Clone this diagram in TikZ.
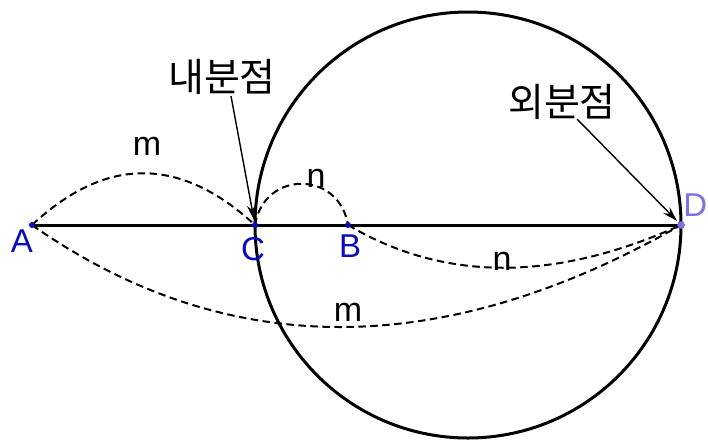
\documentclass[tikz,border=0pt]{standalone}
\usepackage{fontspec}
\setmainfont{Liberation Sans}
\newfontfamily\krfont{Noto Sans CJK KR}
\usetikzlibrary{arrows.meta}
\definecolor{ptblue}{RGB}{10,10,190}
\definecolor{ptlav}{RGB}{125,115,225}
\begin{document}
\begin{tikzpicture}[x=1pt,y=-1pt,
  ptlabel/.style={font=\fontsize{33}{36}\selectfont, text=ptblue, inner sep=0pt},
  letter/.style={font=\fontsize{34}{36}\selectfont, inner sep=0pt},
  krlabel/.style={font=\krfont\fontsize{39}{42}\selectfont, inner sep=0pt},
  dashcurve/.style={line width=2pt, dash pattern=on 7.5pt off 4.5pt},
  pointer/.style={line width=1.4pt, -{Stealth[length=15pt,width=9pt]}, shorten >=2pt},
  dot/.style={circle, fill=ptblue, inner sep=0pt, minimum size=6pt}
]
\useasboundingbox (0,0) rectangle (708,440);
\fill[white] (0,0) rectangle (708,440);
% points
\coordinate (A) at (32,225);
\coordinate (C) at (255,225);
\coordinate (B) at (348,225);
\coordinate (D) at (681,225);
\coordinate (O) at (468,225);
% circle and line
\draw[line width=3pt] (O) circle (213);
\draw[line width=3pt] (A) -- (D);
% dashed arcs
\draw[dashcurve] (A) .. controls (106,156) and (180,156) .. (C);
\draw[dashcurve] (C) .. controls (264,170) and (339,170) .. (B);
\draw[dashcurve] (B) .. controls (444,282) and (555,282) .. (D);
\draw[dashcurve] (A) .. controls (226,361) and (443,361) .. (D);
% dots
\node[dot] (pA) at (A) {};
\node[dot] (pC) at (C) {};
\node[dot] (pB) at (B) {};
\node[circle, fill=ptlav, draw=ptblue!70, line width=0.5pt, inner sep=0pt, minimum size=7pt] (pD) at (D) {};
% labels
\node[ptlabel] (lA) at (22,241) {A};
\node[ptlabel] (lC) at (253,249) {C};
\node[ptlabel] (lB) at (350,246) {B};
\node[ptlabel, text=ptlav, anchor=east] (lD) at (707.5,205) {D};
\node[letter] (m1) at (147,146) {m};
\node[letter] (n1) at (316,178) {n};
\node[letter] (n2) at (502,261) {n};
\node[letter] (m2) at (348,312) {m};
% pointers
\node[krlabel] (in) at (222,77) {내분점};
\node[krlabel] (ex) at (562,102) {외분점};
\coordinate (inS) at (231,96);
\coordinate (exS) at (577,119);
\draw[pointer] (inS) -- (pC);
\draw[pointer] (exS) -- (pD);
\end{tikzpicture}
\end{document}
